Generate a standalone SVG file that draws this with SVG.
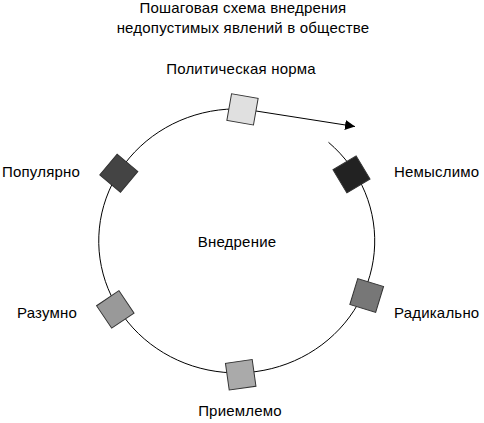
<svg xmlns="http://www.w3.org/2000/svg" width="484" height="423" viewBox="0 0 484 423">
<style>
text{font-family:"Liberation Sans",Arial,sans-serif;font-size:15px;fill:#000;letter-spacing:0.2px}
.c{text-anchor:middle}
.box{stroke:#333;stroke-width:1}
.line{fill:none;stroke:#000;stroke-width:1}
</style>
<defs>
<marker id="ah" markerUnits="userSpaceOnUse" markerWidth="10" markerHeight="10" refX="10" refY="5" orient="auto">
<path d="M0,0 L10,5 L0,10 z" fill="#000"/>
</marker>
<rect id="sq" x="-13.5" y="-13.5" width="27" height="27"/>
</defs>
<rect width="484" height="423" fill="#fff"/>
<g id="title">
<text class="c" x="243" y="13">Пошаговая схема внедрения</text>
<text class="c" x="243" y="33">недопустимых явлений в обществе</text>
</g>
<g id="connectors">
<path class="line" d="M328.5,142.3 A138,132 0 1 1 242.5,109"/>
<path class="line" d="M256,111 L355,126.5" marker-end="url(#ah)"/>
</g>
<g id="center-label"><text class="c" x="237" y="247">Внедрение</text></g>
<g id="node-norma">
<use href="#sq" class="box" fill="#e0e0e0" transform="translate(242.5,109.4) rotate(10)"/>
<text class="c" x="241" y="74">Политическая норма</text>
</g>
<g id="node-nemyslimo">
<use href="#sq" class="box" fill="#222" transform="translate(351.5,174.4) rotate(-31)"/>
<text x="394" y="177">Немыслимо</text>
</g>
<g id="node-radikalno">
<use href="#sq" class="box" fill="#777" transform="translate(366.7,295.5) rotate(17)"/>
<text x="394" y="318">Радикально</text>
</g>
<g id="node-priemlemo">
<use href="#sq" class="box" fill="#aaa" transform="translate(240.7,374.8) rotate(-8)"/>
<text class="c" x="240" y="416">Приемлемо</text>
</g>
<g id="node-razumno">
<use href="#sq" class="box" fill="#999" transform="translate(115.3,309.4) rotate(-34)"/>
<text x="17" y="318">Разумно</text>
</g>
<g id="node-populyarno">
<use href="#sq" class="box" fill="#444" transform="translate(118.8,173.2) rotate(40)"/>
<text x="2" y="177">Популярно</text>
</g>
</svg>
